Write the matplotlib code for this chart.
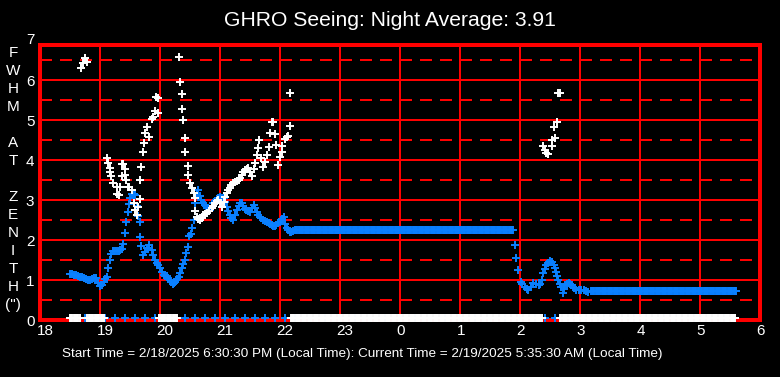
import numpy as np
import matplotlib
matplotlib.use("Agg")
import matplotlib.pyplot as plt
from matplotlib.transforms import ScaledTranslation

plt.rcParams['font.family'] = ['Liberation Sans', 'DejaVu Sans']
plt.rcParams['lines.scale_dashes'] = False

# hours after midnight of the start day (24 = 0h next day)
blue_t = [18.50, 18.53, 18.56, 18.60, 18.63, 18.67, 18.70, 18.73, 18.77, 18.80,
          18.83, 18.87, 18.90, 18.94, 18.97, 19.00, 19.03, 19.06, 19.09, 19.11,
          19.14, 19.17, 19.19, 19.22, 19.25, 19.28, 19.31, 19.34, 19.37, 19.39,
          19.41, 19.43, 19.46, 19.48, 19.50, 19.53, 19.56, 19.58, 19.61, 19.64,
          19.66, 19.67, 19.69, 19.72, 19.75, 19.78, 19.82, 19.86, 19.89, 19.92,
          19.95, 19.97, 20.00, 20.03, 20.06, 20.09, 20.11, 20.14, 20.17, 20.19,
          20.21, 20.23, 20.25, 20.28, 20.31, 20.33, 20.36, 20.39, 20.42, 20.44,
          20.47, 20.49, 20.51, 20.54, 20.56, 20.58, 20.61, 20.64, 20.67, 20.69,
          20.72, 20.75, 20.78, 20.81, 20.83, 20.86, 20.89, 20.92, 20.95, 20.97,
          21.00, 21.03, 21.06, 21.08, 21.11, 21.14, 21.17, 21.19, 21.22, 21.25,
          21.28, 21.31, 21.33, 21.36, 21.39, 21.42, 21.44, 21.47, 21.50, 21.53,
          21.56, 21.58, 21.61, 21.64, 21.67, 21.69, 21.72, 21.75, 21.78, 21.81,
          21.83, 21.86, 21.89, 21.92, 21.94, 21.97, 22.00, 22.03, 22.06, 22.08,
          22.11, 22.14, 22.17, 22.19, 22.22]
blue_v = [1.14, 1.14, 1.13, 1.12, 1.10, 1.08, 1.07, 1.05, 1.03, 1.01,
          1.00, 1.02, 1.05, 1.04, 0.92, 0.85, 0.88, 0.95, 1.02, 1.08,
          1.30, 1.50, 1.65, 1.72, 1.73, 1.73, 1.72, 1.74, 1.78, 1.90,
          2.17, 2.45, 2.70, 2.90, 3.05, 3.15, 3.15, 3.12, 2.85, 2.60,
          2.45, 2.08, 1.85, 1.62, 1.70, 1.80, 1.87, 1.75, 1.62, 1.50,
          1.42, 1.37, 1.29, 1.20, 1.12, 1.10, 1.10, 1.05, 1.00, 0.95,
          0.90, 0.93, 0.96, 1.02, 1.08, 1.18, 1.29, 1.40, 1.50, 1.67,
          1.83, 2.10, 2.15, 2.29, 2.50, 2.92, 3.15, 3.25, 3.10, 3.00,
          2.93, 2.87, 2.80, 2.76, 2.75, 2.82, 2.92, 2.98, 3.03, 3.06,
          3.08, 3.06, 3.04, 2.95, 2.83, 2.72, 2.62, 2.55, 2.50, 2.62,
          2.75, 2.85, 2.92, 2.93, 2.85, 2.78, 2.75, 2.72, 2.71, 2.80,
          2.87, 2.80, 2.71, 2.62, 2.57, 2.54, 2.50, 2.47, 2.44, 2.42,
          2.40, 2.38, 2.36, 2.35, 2.38, 2.42, 2.46, 2.52, 2.57, 2.40,
          2.29, 2.25, 2.21, 2.21, 2.23]

blue_morn_t = [25.92, 25.93, 25.96, 26.01, 26.04, 26.08, 26.11, 26.14, 26.18, 26.22,
               26.26, 26.31, 26.34, 26.36, 26.39, 26.42, 26.44, 26.47, 26.50, 26.53,
               26.56, 26.58, 26.60, 26.62, 26.64, 26.66, 26.68, 26.71, 26.73, 26.75,
               26.78, 26.81, 26.84, 26.86, 26.90, 26.94, 26.98, 27.02, 27.06, 27.10,
               27.14]
blue_morn_v = [1.87, 1.54, 1.25, 0.96, 0.90, 0.83, 0.78, 0.75, 0.82, 0.92,
               0.90, 0.87, 0.90, 1.00, 1.17, 1.28, 1.37, 1.43, 1.48, 1.44,
               1.37, 1.30, 1.21, 1.10, 1.00, 0.90, 0.83, 0.67, 0.78, 0.87,
               0.91, 0.93, 0.90, 0.87, 0.80, 0.75, 0.74, 0.75, 0.75, 0.73,
               0.71]

# stretches where the average stays flat: (start, end, value)
blue_flat = [(22.25, 25.89, 2.24), (27.18, 29.61, 0.72)]

white_t = [18.69, 18.72, 18.75, 18.78, 19.12, 19.14, 19.16, 19.17, 19.19, 19.22,
           19.28, 19.29, 19.31, 19.33, 19.36, 19.37, 19.38, 19.41, 19.42, 19.44,
           19.47, 19.49, 19.53, 19.56, 19.58, 19.61, 19.64, 19.66, 19.67, 19.69,
           19.71, 19.73, 19.75, 19.79, 19.82, 19.86, 19.89, 19.92, 19.93, 19.96,
           19.97, 20.32, 20.34, 20.36, 20.37, 20.39, 20.41, 20.42, 20.46, 20.47,
           20.50, 20.53, 20.56, 20.58, 20.59, 20.61, 20.64, 20.67, 20.70, 20.72,
           20.75, 20.78, 20.82, 20.86, 20.89, 20.92, 20.95, 20.97, 21.00, 21.03,
           21.06, 21.08, 21.11, 21.14, 21.17, 21.19, 21.22, 21.25, 21.28, 21.31,
           21.33, 21.36, 21.39, 21.42, 21.45, 21.47, 21.50, 21.53, 21.56, 21.58,
           21.61, 21.64, 21.65, 21.69, 21.72, 21.75, 21.78, 21.82, 21.84, 21.87,
           21.89, 21.91, 21.93, 21.97, 22.00, 22.03, 22.04, 22.08, 22.11, 22.14,
           22.16, 22.17, 26.39, 26.42, 26.44, 26.47, 26.53, 26.54, 26.57, 26.59,
           26.61, 26.64, 26.66]
white_v = [6.29, 6.42, 6.54, 6.46, 4.04, 3.93, 3.80, 3.71, 3.60, 3.42,
           3.33, 3.15, 3.12, 3.33, 3.60, 3.90, 3.89, 3.77, 3.62, 3.50,
           3.33, 3.33, 3.25, 2.93, 2.75, 2.62, 2.83, 3.02, 3.50, 3.83,
           4.19, 4.43, 4.67, 4.82, 4.58, 5.02, 5.08, 5.23, 5.57, 5.18,
           5.54, 6.57, 5.94, 5.65, 5.27, 4.99, 4.54, 4.19, 3.84, 3.62,
           3.42, 3.29, 3.17, 3.04, 2.73, 2.58, 2.52, 2.50, 2.56, 2.62,
           2.65, 2.67, 2.72, 2.79, 2.85, 2.92, 2.97, 3.00, 2.92, 2.83,
           2.95, 3.08, 3.17, 3.25, 3.31, 3.37, 3.42, 3.46, 3.48, 3.50,
           3.56, 3.62, 3.69, 3.75, 3.78, 3.79, 3.70, 3.60, 3.77, 3.93,
           4.12, 4.29, 4.50, 4.04, 3.83, 3.96, 4.12, 4.33, 4.67, 4.96,
           4.96, 4.64, 4.37, 3.87, 4.07, 4.21, 4.35, 4.52, 4.58, 4.60,
           4.85, 5.67, 4.35, 4.25, 4.18, 4.15, 4.50, 4.35, 4.82, 4.54,
           4.94, 5.67, 5.67]

# no reading (plotted at 0)
white_zero_spans = [(18.50, 18.68), (18.79, 19.08), (19.99, 20.30), (22.18, 26.38), (26.67, 29.61)]
blue_zero_step = 1 / 6   # one every 10 min
blue_zero_span = (18.585, 29.61)

x_ticks = list(range(18, 31))
x_labels = [str(h % 24) for h in x_ticks]
ylabel_letters = ['F', 'W', 'H', 'M', '', 'A', 'T', '', 'Z', 'E', 'N', 'I', 'T', 'H', '(")']

title = "GHRO Seeing: Night Average: 3.91"
footer = ("Start Time = 2/18/2025 6:30:30 PM (Local Time): "
          "Current Time = 2/19/2025 5:35:30 AM (Local Time)")

RED = '#ff0000'
BLUE = '#0a80ff'
W, H = 780, 377

fig = plt.figure(figsize=(W / 100, H / 100), dpi=100, facecolor='black')
ax = fig.add_axes([40 / W, 57 / H, 720 / W, 275 / H], facecolor='black')
ax.set_xlim(18, 30)
ax.set_ylim(0, 6.875)

grid = dict(color=RED, lw=1.44, zorder=1, antialiased=False)
for y in range(1, 7):
    ax.axhline(y, **grid)
for y in np.arange(0.5, 7, 1.0):
    ax.axhline(y, ls=(0, (8.4, 6.0)), **grid)
for x in range(19, 30):
    ax.axvline(x, **grid)
for s in ax.spines.values():
    s.set_color(RED)
    s.set_linewidth(1.6)
    s.set_antialiased(False)

mk = dict(marker='+', s=30, linewidths=1.4, clip_on=False)

# blue: averaged seeing
bz = np.arange(blue_zero_span[0], blue_zero_span[1], blue_zero_step)
ax.scatter(bz, np.zeros_like(bz) + 0.04, color=BLUE, zorder=3, **mk)
ax.scatter(blue_t, blue_v, color=BLUE, zorder=3, **mk)
ax.scatter(blue_morn_t, blue_morn_v, color=BLUE, zorder=3, **mk)
for a, b, v in blue_flat:
    ft = np.arange(a, b, 0.02)
    ax.scatter(ft, np.full_like(ft, v), color=BLUE, zorder=3, **mk)

# white: individual measurements
for a, b in white_zero_spans:
    zt = np.arange(a, b, 0.02)
    ax.scatter(zt, np.zeros_like(zt) + 0.04, color='white', zorder=4, **mk)
ax.scatter(white_t, white_v, color='white', zorder=4, **mk)

ax.set_xticks(x_ticks)
ax.set_xticklabels(x_labels)
ax.set_yticks(range(0, 7))
ax.tick_params(length=0, colors='white', labelsize=11)
ax.tick_params(axis='x', pad=3)
ax.tick_params(axis='y', pad=4)
# hour labels start just left of their gridline
shift = ScaledTranslation(-3.5 / 100, 0, fig.dpi_scale_trans)
for lab in ax.get_xticklabels():
    lab.set_horizontalalignment('left')
    lab.set_transform(lab.get_transform() + shift)
ax.text(-5 / 720, 7, '7', transform=ax.get_yaxis_transform(), ha='right', va='center',
        color='white', fontsize=11, clip_on=False)

for i, ch in enumerate(ylabel_letters):
    fig.text(13 / W, 1 - (53 + 18 * i) / H, ch, ha='center', va='center',
             color='white', fontsize=11)

fig.text(0.5, 1 - 21 / H, title, ha='center', va='center', color='white', fontsize=15.2)
fig.text(62 / W, 1 - 354 / H, footer, ha='left', va='center', color='white', fontsize=9.7)

fig.savefig('out.png', dpi=100, facecolor='black')
